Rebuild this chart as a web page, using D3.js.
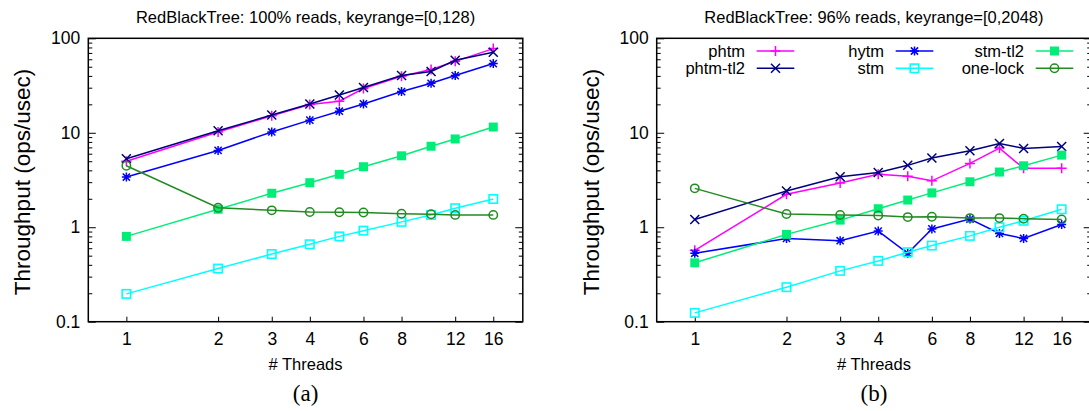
<!DOCTYPE html>
<html><head><meta charset="utf-8">
<script src="https://cdn.jsdelivr.net/npm/d3@7"></script>
<style>
body{margin:0;background:#fff}
svg{display:block}
text{font-family:"Liberation Sans",Arial,Helvetica,sans-serif;fill:#000}
text.caption{font-family:"Liberation Serif","Times New Roman",Times,serif}
</style>
</head><body>
<svg id="chart" width="1089" height="411"></svg>
<script>
// ---------- data ----------
const threads = [1, 2, 3, 4, 5, 6, 8, 10, 12, 16];
const xTickValues = [1, 2, 3, 4, 6, 8, 12, 16];
const yTickValues = [0.1, 1, 10, 100];
const seriesNames = ["phtm", "phtm-tl2", "hytm", "stm", "stm-tl2", "one-lock"];
const seriesColors = ["#ff00ff", "#000080", "#0000ff", "#00ffff", "#00ee77", "#228b22"];
const seriesMarkers = ["plus", "cross", "star", "square", "filledSquare", "circle"];
const panelTitles = ["RedBlackTree: 100% reads, keyrange=[0,128)", "RedBlackTree: 96% reads, keyrange=[0,2048)"];
const panelCaptions = ["(a)", "(b)"];
const xAxisTitle = "# Threads";
const yAxisTitle = "Throughput (ops/usec)";

// panel (a): 100% reads, keyrange [0,128)
const aPhtm    = [5.0, 10.2, 15.1, 19.9, 21.6, 29.4, 39.6, 46.7, 57.0, 77.8];
const aPhtmTl2 = [5.3, 10.5, 15.4, 20.2, 25.1, 30.1, 40.3, 44.5, 58.5, 71.1];
const aHytm    = [3.4, 6.5, 10.2, 13.6, 16.9, 20.2, 27.3, 33.4, 40.3, 54.0];
const aStm     = [0.197, 0.365, 0.52, 0.66, 0.80, 0.92, 1.14, 1.35, 1.59, 1.99];
const aStmTl2  = [0.80, 1.55, 2.29, 2.96, 3.63, 4.37, 5.7, 7.2, 8.6, 11.5];
const aOneLock = [4.47, 1.61, 1.51, 1.45, 1.44, 1.43, 1.39, 1.37, 1.35, 1.35];

// panel (b): 96% reads, keyrange [0,2048)
const bPhtm    = [0.57, 2.23, 2.94, 3.63, 3.46, 3.1, 4.74, 6.88, 4.2, 4.2];
const bPhtmTl2 = [1.21, 2.42, 3.42, 3.8, 4.52, 5.4, 6.44, 7.7, 6.83, 7.17];
const bHytm    = [0.53, 0.76, 0.72, 0.91, 0.53, 0.96, 1.22, 0.86, 0.76, 1.07];
const bStm     = [0.124, 0.232, 0.345, 0.44, 0.544, 0.64, 0.81, 1.0, 1.17, 1.55];
const bStmTl2  = [0.42, 0.84, 1.19, 1.57, 1.94, 2.31, 3.03, 3.84, 4.47, 5.8];
const bOneLock = [2.58, 1.38, 1.35, 1.33, 1.28, 1.29, 1.25, 1.25, 1.23, 1.21];

const panelSeries = [
  [aPhtm, aPhtmTl2, aHytm, aStm, aStmTl2, aOneLock],
  [bPhtm, bPhtmTl2, bHytm, bStm, bStmTl2, bOneLock]
];

// ---------- layout ----------
const svg = d3.select("#chart");
const plotLefts = [88.3, 656.7];
const plotW = 434.5, plotTop = 38.3, plotBottom = 321.7;
const tickFont = 17.5, titleFont = 16.5, labelFont = 16.5, yLabelFont = 22.5, legendFont = 16.5;

function markerPath(type, s) {
  switch (type) {
    case "plus": return `M${-s},0H${s}M0,${-s}V${s}`;
    case "cross": return `M${-s},${-s}L${s},${s}M${-s},${s}L${s},${-s}`;
    case "star": {
      const c = s * 0.8;
      return `M${-s},0H${s}M0,${-s}V${s}M${-c},${-c}L${c},${c}M${-c},${c}L${c},${-c}`;
    }
  }
  return "";
}

function drawMarker(g, type, color, cx, cy) {
  if (type === "square") {
    g.append("rect").attr("x", cx - 4.2).attr("y", cy - 4.2).attr("width", 8.4).attr("height", 8.4)
      .attr("fill", "none").attr("stroke", color).attr("stroke-width", 1.6);
  } else if (type === "filledSquare") {
    g.append("rect").attr("x", cx - 4.5).attr("y", cy - 4.5).attr("width", 9).attr("height", 9)
      .attr("fill", color).attr("stroke", "none");
  } else if (type === "circle") {
    g.append("circle").attr("cx", cx).attr("cy", cy).attr("r", 4.2)
      .attr("fill", "none").attr("stroke", color).attr("stroke-width", 1.5);
  } else {
    const s = type === "plus" ? 5 : 4.5;
    g.append("path").attr("transform", `translate(${cx},${cy})`).attr("d", markerPath(type, s))
      .attr("fill", "none").attr("stroke", color).attr("stroke-width", 1.5);
  }
}

panelSeries.forEach((seriesList, p) => {
  const left = plotLefts[p];
  const x = d3.scaleLog().base(2).domain([0.75, 20]).range([left, left + plotW]);
  const y = d3.scaleLog().domain([0.1, 100]).range([plotBottom, plotTop]);
  const g = svg.append("g");

  // minor y ticks
  const minor = [];
  [0.1, 1, 10].forEach(dec => { for (let k = 2; k <= 9; k++) minor.push(dec * k); });
  const yMinorL = d3.axisLeft(y).tickValues(minor).tickSizeInner(-4).tickSizeOuter(0).tickFormat("");
  const yMinorR = d3.axisRight(y).tickValues(minor).tickSizeInner(-4).tickSizeOuter(0).tickFormat("");
  const yMajorL = d3.axisLeft(y).tickValues(yTickValues).tickSizeInner(-7.5).tickSizeOuter(0)
    .tickPadding(8).tickFormat(d => d3.format("~g")(d));
  const yMajorR = d3.axisRight(y).tickValues(yTickValues).tickSizeInner(-7.5).tickSizeOuter(0).tickFormat("");
  const xAx = d3.axisBottom(x).tickValues(xTickValues).tickSizeInner(-5).tickSizeOuter(0)
    .tickPadding(11).tickFormat(d3.format("d"));

  [[yMinorL, `translate(${left},0)`], [yMinorR, `translate(${left + plotW},0)`],
   [yMajorL, `translate(${left},0)`], [yMajorR, `translate(${left + plotW},0)`],
   [xAx, `translate(0,${plotBottom})`]].forEach(([ax, tr]) => {
    const ag = g.append("g").attr("transform", tr).call(ax);
    ag.select(".domain").remove();
    ag.selectAll("line").attr("stroke", "#000").attr("stroke-width", 1);
    ag.selectAll("text").attr("font-size", tickFont).attr("fill", "#000");
  });

  // frame
  g.append("rect").attr("x", left).attr("y", plotTop).attr("width", plotW).attr("height", plotBottom - plotTop)
    .attr("fill", "none").attr("stroke", "#000").attr("stroke-width", 1.5);

  // series
  const line = d3.line().x(d => x(d[0])).y(d => y(d[1]));
  seriesList.forEach((vals, i) => {
    const pts = threads.map((t, j) => [t, vals[j]]);
    const sg = g.append("g");
    sg.append("path").attr("d", line(pts)).attr("fill", "none")
      .attr("stroke", seriesColors[i]).attr("stroke-width", 1.5);
    pts.forEach(pt => drawMarker(sg, seriesMarkers[i], seriesColors[i], x(pt[0]), y(pt[1])));
  });

  const cx = left + plotW / 2;
  g.append("text").attr("x", cx).attr("y", 23).attr("text-anchor", "middle")
    .attr("font-size", titleFont).text(panelTitles[p]);
  g.append("text").attr("x", cx).attr("y", 370).attr("text-anchor", "middle")
    .attr("font-size", labelFont).text(xAxisTitle);
  g.append("text").attr("transform", `translate(${left - 66},${(plotTop + plotBottom) / 2 + 2}) rotate(-90)`)
    .attr("text-anchor", "middle").attr("dy", "0.35em").attr("font-size", yLabelFont).text(yAxisTitle);
  g.append("text").attr("class", "caption").attr("x", cx).attr("y", 401).attr("text-anchor", "middle")
    .attr("font-size", 23).text(panelCaptions[p]);

  // legend in panel (b)
  if (p === 1) {
    const lg = g.append("g");
    const colText = [88.3, 227.3, 367.3];
    const rowY = [51, 68.3];
    seriesNames.forEach((name, i) => {
      const c = Math.floor(i / 2), r = i % 2;
      const tx = left + colText[c], ly = rowY[r];
      lg.append("text").attr("x", tx).attr("y", ly).attr("dy", "0.35em").attr("text-anchor", "end")
        .attr("font-size", legendFont).text(name);
      const x1 = tx + 11.7, x2 = tx + 49.3;
      lg.append("line").attr("x1", x1).attr("x2", x2).attr("y1", ly).attr("y2", ly)
        .attr("stroke", seriesColors[i]).attr("stroke-width", 1.5);
      drawMarker(lg, seriesMarkers[i], seriesColors[i], (x1 + x2) / 2, ly);
    });
  }
});
</script>
</body></html>
